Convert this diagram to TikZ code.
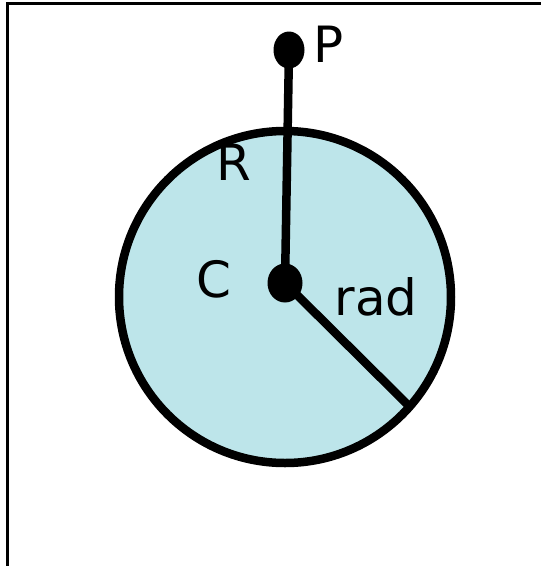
\documentclass[tikz,border=0pt]{standalone}
\usepackage{fontspec}
\setmainfont{DejaVu Sans}
\usetikzlibrary{shapes.geometric}
\definecolor{fillc}{RGB}{189,229,234}
\begin{document}
\begin{tikzpicture}[x=1pt,y=-1pt,
  dotnode/.style={ellipse, fill=black, inner sep=0pt},
  lbl/.style={font=\fontsize{50}{60}\selectfont, inner sep=0pt, anchor=base},
  thick line/.style={line width=8.5pt}]
\useasboundingbox (0,0) rectangle (541,566);
\draw[line width=3pt] (7,570) -- (7,3) -- (545,3);
\draw[fill=fillc, thick line] (285,297) circle (166);
\node[dotnode, minimum width=31pt, minimum height=37pt] (P) at (289,50) {};
\node[dotnode, minimum width=35pt, minimum height=39pt] (C) at (285,283) {};
\coordinate (rim) at (410,407);
\draw[thick line] (P.center) -- (C.center);
\draw[thick line] (C.center) -- (rim);
\node[lbl] (lP) at (329,62) {P};
\node[lbl] (lC) at (214,297) {C};
\node[lbl] (lR) at (234,180) {R};
\node[lbl] (lrad) at (376,315) {rad};
\end{tikzpicture}
\end{document}
